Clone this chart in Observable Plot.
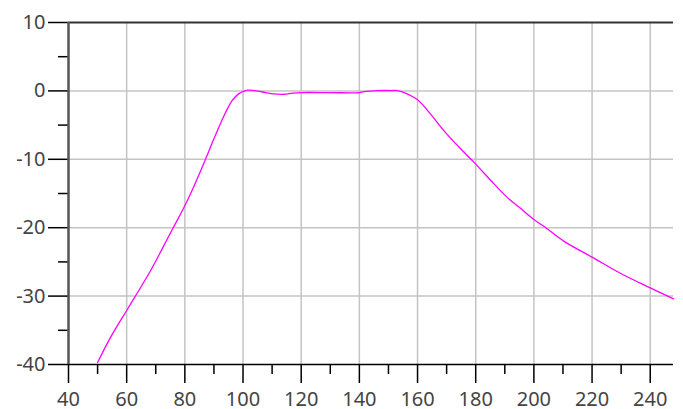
<!DOCTYPE html>
<html><head><meta charset="utf-8">
<script src="https://cdn.jsdelivr.net/npm/d3@7"></script>
<script src="https://cdn.jsdelivr.net/npm/@observablehq/plot@0.6"></script>
<style>body{margin:0;background:#fff}</style>
</head><body><div id="chart"></div>
<script>
const freq = [50, 54.5, 60, 63, 68.2, 72.2, 76, 80, 83.7, 86.9, 90, 93.4, 96.3, 98.6, 100, 101.5, 104.3, 107.8, 110.6, 114.1, 117, 119.8, 130, 140, 141.6, 146.2, 150.8, 153.1, 155.4, 160, 164.5, 169.1, 174.9, 180, 185.2, 190.9, 195.5, 200, 204.1, 210.4, 220, 229.9, 240, 248];
const gain = [-39.7, -36.0, -32.1, -30.0, -26.3, -23.1, -20.0, -16.8, -13.4, -10.2, -7.0, -3.7, -1.4, -0.4, -0.1, 0.1, 0.05, -0.25, -0.44, -0.49, -0.34, -0.25, -0.25, -0.25, -0.1, 0.05, 0.05, 0.05, -0.24, -1.3, -3.4, -5.84, -8.5, -10.7, -13.1, -15.6, -17.2, -18.8, -20.0, -22.0, -24.3, -26.7, -28.8, -30.4];
const xMajor = [40, 60, 80, 100, 120, 140, 160, 180, 200, 220, 240];
const xMinor = [50, 70, 90, 110, 130, 150, 170, 190, 210, 230];
const yMajor = [-40, -30, -20, -10, 0, 10];
const yMinor = [-35, -25, -15, -5, 5];
const data = freq.map((f, i) => ({f, g: gain[i]}));

const plot = Plot.plot({
  width: 683, height: 409,
  marginLeft: 68, marginRight: 10, marginTop: 22, marginBottom: 45,
  style: {fontFamily: "Noto Sans", fontSize: "20px", color: "#444", background: "#fff", overflow: "visible"},
  x: {domain: [40, 248]},
  y: {domain: [-40, 10]},
  marks: [
    Plot.gridX(xMajor.slice(1), {stroke: "#c4c4c4", strokeOpacity: 1, strokeWidth: 1.5}),
    Plot.gridY(yMajor.slice(1, -1), {stroke: "#c4c4c4", strokeOpacity: 1, strokeWidth: 1.5}),
    Plot.line(data, {x: "f", y: "g", stroke: "#ff00ff", strokeWidth: 1.3, curve: "catmull-rom"}),
    Plot.ruleY([10], {stroke: "#333", strokeWidth: 2}),
    Plot.ruleY([-40], {stroke: "#000", strokeWidth: 1.7}),
    Plot.axisX(xMajor, {tickSize: 19, tickPadding: 8, stroke: "#000", fill: "#444", strokeWidth: 1.5, label: null}),
    Plot.axisX(xMinor, {tickSize: 10, tickFormat: () => "", stroke: "#000", strokeWidth: 1.5, label: null}),
    Plot.axisY(yMajor, {tickSize: 20, tickPadding: 3, tickFormat: d => String(d), stroke: "#000", fill: "#444", strokeWidth: 1.5, label: null}),
    Plot.axisY(yMinor, {tickSize: 10, tickFormat: () => "", stroke: "#000", strokeWidth: 1.5, label: null}),
    Plot.ruleX([40], {stroke: "#555", strokeWidth: 2.5})
  ]
});
document.getElementById("chart").append(plot);
</script>
</body></html>
